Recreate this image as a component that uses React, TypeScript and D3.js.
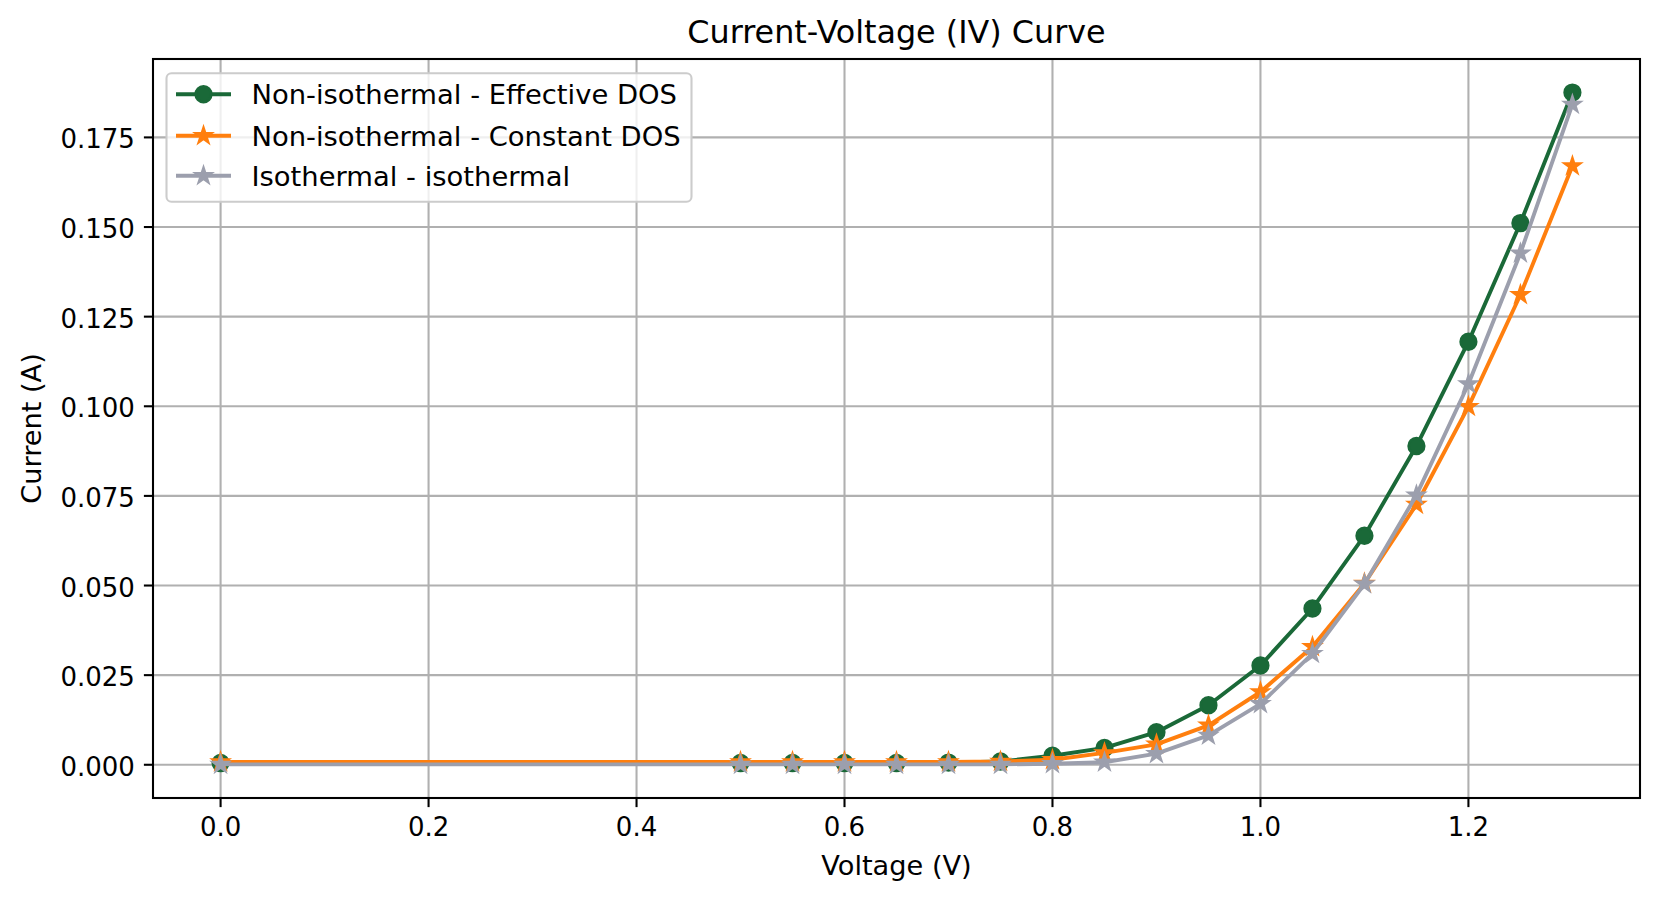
import React from "react";
import * as d3 from "d3";

const voltage = [0, 0.5, 0.55, 0.6, 0.65, 0.7, 0.75, 0.8, 0.85, 0.9, 0.95, 1.0, 1.05, 1.1, 1.15, 1.2, 1.25, 1.3];
const effectiveDOS = [0.0005, 0.0005, 0.0005, 0.0005, 0.0005, 0.0006, 0.0009, 0.0025, 0.0047, 0.0091, 0.0166, 0.0277, 0.0436, 0.0639, 0.0889, 0.118, 0.1511, 0.1875];
const constantDOS = [0.0008, 0.0008, 0.0008, 0.0008, 0.0008, 0.0008, 0.0009, 0.0014, 0.0033, 0.0057, 0.011, 0.0203, 0.0329, 0.0506, 0.0726, 0.0999, 0.1311, 0.167];
const isothermal = [0.0001, 0.0001, 0.0001, 0.0001, 0.0001, 0.0001, 0.0001, 0.0003, 0.0007, 0.0031, 0.0082, 0.017, 0.031, 0.0504, 0.0752, 0.1062, 0.1427, 0.1842];

const seriesLabels = ["Non-isothermal - Effective DOS", "Non-isothermal - Constant DOS", "Isothermal - isothermal"];
const seriesColors = ["#1a6938", "#ff7f0e", "#9c9fad"];
const seriesMarkers = ["circle", "star", "star"];
const xTicks = [0, 0.2, 0.4, 0.6, 0.8, 1.0, 1.2];
const yTicks = [0, 0.025, 0.05, 0.075, 0.1, 0.125, 0.15, 0.175];

const W = 1660;
const H = 901;
const L = 153;
const R = 1640;
const T = 59;
const B = 798;
const FONT = "DejaVu Sans, sans-serif";
const PT = 187.5 / 72;

function withMargin(lo: number, hi: number): [number, number] {
  const m = (hi - lo) * 0.05;
  return [lo - m, hi + m];
}

export default function App() {
  const allSeries = [effectiveDOS, constantDOS, isothermal];
  const xExt = d3.extent(voltage) as [number, number];
  const yAll = allSeries.flat();
  const yExt = d3.extent(yAll) as [number, number];
  const x = d3.scaleLinear().domain(withMargin(xExt[0], xExt[1])).range([L, R]);
  const y = d3.scaleLinear().domain(withMargin(yExt[0], yExt[1])).range([B, T]);

  const lineW = 1.5 * PT;
  const msize = 6 * PT;
  const mew = 1 * PT;
  const circlePath = d3.symbol(d3.symbolCircle, Math.PI * (msize / 2) ** 2)()!;
  const starR = msize / 2;
  const starPath = d3.symbol(d3.symbolStar, (starR * starR) / 0.8908130915292852)()!;
  const markerPath = (m: string) => (m === "circle" ? circlePath : starPath);

  const line = d3
    .line<[number, number]>()
    .x((d) => x(d[0]))
    .y((d) => y(d[1]));

  const gridW = 0.8 * PT;
  const tickLen = 3.5 * PT;
  const fs = 26;
  const labelFs = 27.2;
  const legendFs = 27.4;

  const legendRows = [94.3, 135.7, 175.7];

  return (
    <svg
      width={W}
      height={H}
      style={{ position: "absolute", left: 0, top: 0, background: "#fff" }}
      fontFamily={FONT}
    >
      <rect x={0} y={0} width={W} height={H} fill="#fff" />
      {/* grid */}
      <g stroke="#b0b0b0" strokeWidth={gridW}>
        {xTicks.map((t) => (
          <line key={"gx" + t} x1={x(t)} x2={x(t)} y1={T} y2={B} />
        ))}
        {yTicks.map((t) => (
          <line key={"gy" + t} x1={L} x2={R} y1={y(t)} y2={y(t)} />
        ))}
      </g>
      {/* series */}
      <defs>
        <clipPath id="plotclip">
          <rect x={L} y={T} width={R - L} height={B - T} />
        </clipPath>
      </defs>
      <g clipPath="url(#plotclip)">
        {allSeries.map((s, i) => {
          const pts = voltage.map((v, j) => [v, s[j]] as [number, number]);
          return (
            <g key={"s" + i}>
              <path
                d={line(pts)!}
                fill="none"
                stroke={seriesColors[i]}
                strokeWidth={lineW}
                strokeLinejoin="round"
              />
              {pts.map((p, j) => (
                <path
                  key={j}
                  d={markerPath(seriesMarkers[i])}
                  transform={`translate(${x(p[0])},${y(p[1])})`}
                  fill={seriesColors[i]}
                  stroke={seriesColors[i]}
                  strokeWidth={mew}
                  strokeLinejoin="miter"
                />
              ))}
            </g>
          );
        })}
      </g>
      {/* spines */}
      <rect x={L} y={T} width={R - L} height={B - T} fill="none" stroke="#000" strokeWidth={gridW} />
      {/* x ticks */}
      <g>
        {xTicks.map((t) => (
          <g key={"xt" + t}>
            <line x1={x(t)} x2={x(t)} y1={B} y2={B + tickLen} stroke="#000" strokeWidth={gridW} />
            <text x={x(t)} y={836} textAnchor="middle" fontSize={fs} fill="#000">
              {d3.format(".1f")(t)}
            </text>
          </g>
        ))}
      </g>
      {/* y ticks */}
      <g>
        {yTicks.map((t) => (
          <g key={"yt" + t}>
            <line x1={L - tickLen} x2={L} y1={y(t)} y2={y(t)} stroke="#000" strokeWidth={gridW} />
            <text x={L - tickLen - 9} y={y(t) + 11} textAnchor="end" fontSize={fs} fill="#000">
              {d3.format(".3f")(t)}
            </text>
          </g>
        ))}
      </g>
      {/* labels */}
      <text x={(L + R) / 2} y={874.5} textAnchor="middle" fontSize={labelFs} fill="#000">
        Voltage (V)
      </text>
      <text
        transform={`translate(41,${(T + B) / 2}) rotate(-90)`}
        textAnchor="middle"
        fontSize={labelFs}
        fill="#000"
      >
        Current (A)
      </text>
      <text x={(L + R) / 2} y={43} textAnchor="middle" fontSize={31.8} fill="#000">
        Current-Voltage (IV) Curve
      </text>
      {/* legend */}
      <g>
        <rect
          x={166.5}
          y={73.3}
          width={525}
          height={128.4}
          rx={5}
          ry={5}
          fill="#fff"
          fillOpacity={0.8}
          stroke="#cccccc"
          strokeWidth={gridW}
        />
        {seriesLabels.map((lab, i) => (
          <g key={"lg" + i}>
            <line
              x1={176}
              x2={231}
              y1={legendRows[i]}
              y2={legendRows[i]}
              stroke={seriesColors[i]}
              strokeWidth={lineW}
            />
            <path
              d={markerPath(seriesMarkers[i])}
              transform={`translate(203.5,${legendRows[i]})`}
              fill={seriesColors[i]}
              stroke={seriesColors[i]}
              strokeWidth={mew}
            />
            <text x={251.5} y={legendRows[i] + 10} fontSize={legendFs} fill="#000">
              {lab}
            </text>
          </g>
        ))}
      </g>
    </svg>
  );
}
